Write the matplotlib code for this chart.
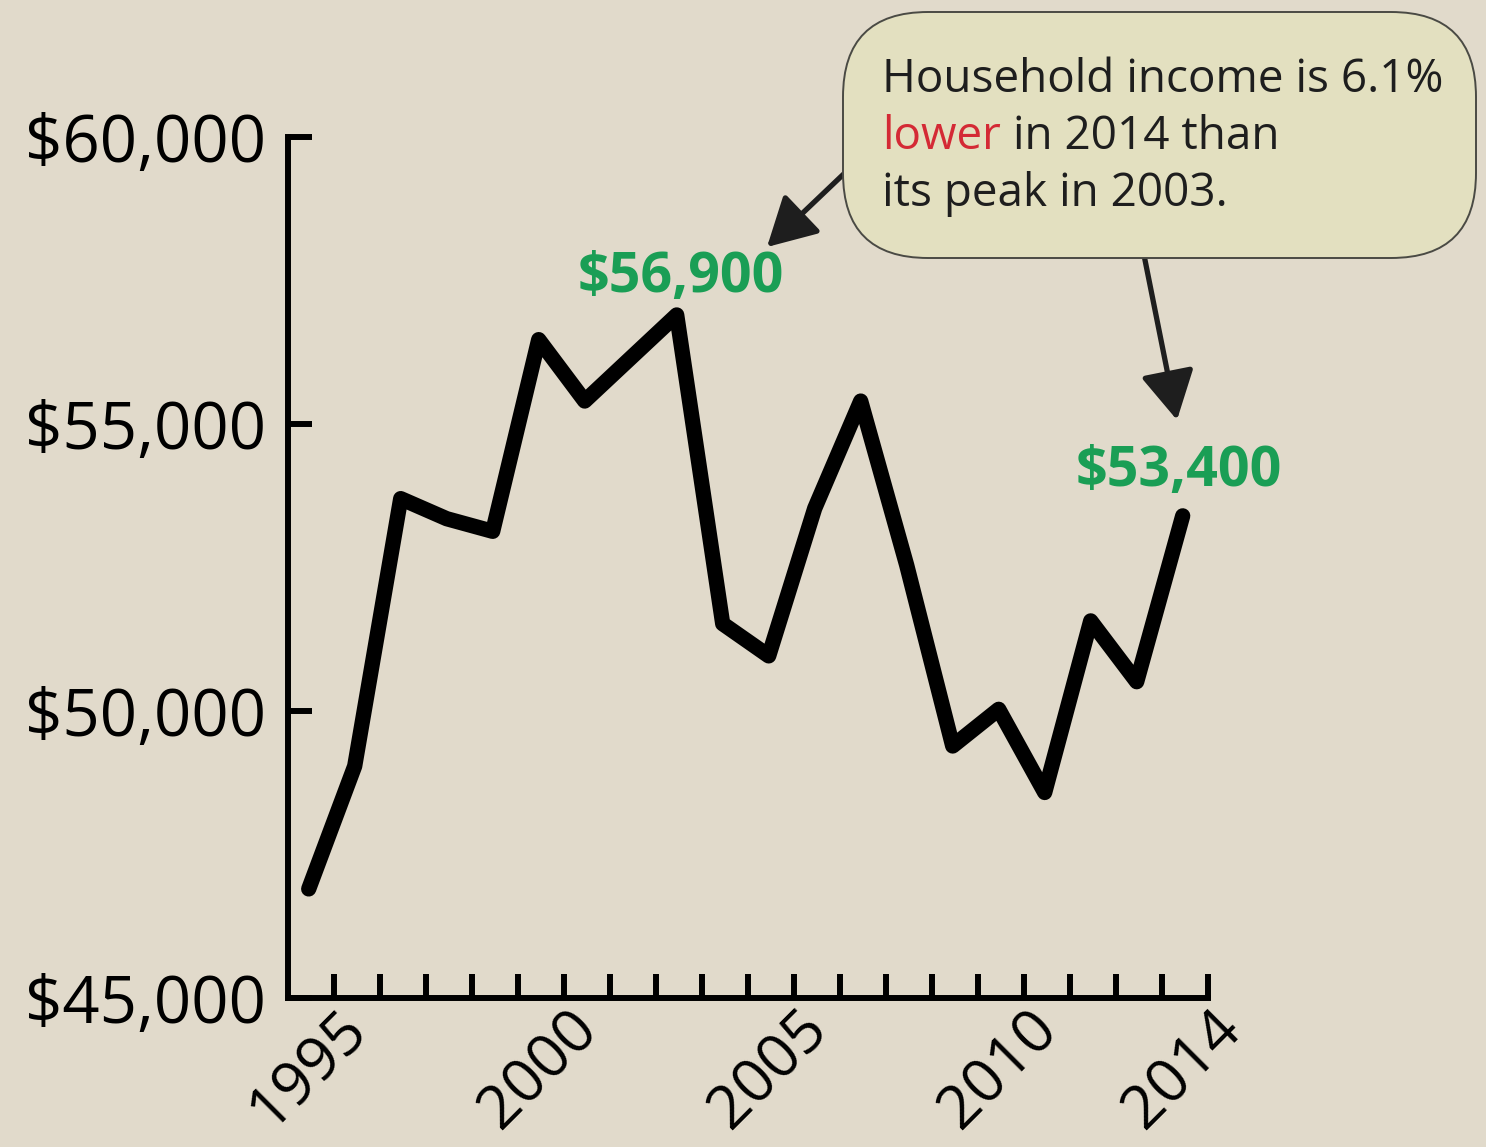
import numpy as np
import matplotlib
matplotlib.use("Agg")
import matplotlib.pyplot as plt
from matplotlib.patches import FancyBboxPatch
from matplotlib.transforms import IdentityTransform
from matplotlib.text import Annotation

plt.rcParams['font.family'] = ['Open Sans', 'DejaVu Sans']

# median household income, 1995-2014
years = np.arange(1995, 2015)
income = [46900, 49040, 53700, 53350, 53130, 56470, 55400, 56150, 56900, 51520,
          50960, 53530, 55400, 52540, 49390, 50030, 48580, 51570, 50510, 53400]
label_years = [1995, 2000, 2005, 2010, 2014]
y_ticks = [45000, 50000, 55000, 60000]
peak_year, peak_val = 2003, 56900
last_year, last_val = 2014, 53400

BG = '#e1dacb'
GREEN = '#1a9e55'
RED = '#d42a35'
DARK = '#1e1e1e'
W, H = 1486, 1147

fig = plt.figure(figsize=(W / 100, H / 100), dpi=100, facecolor=BG)
ax = fig.add_axes([288 / W, 1 - 998 / H, 920 / W, 861 / H])
ax.set_facecolor(BG)

ax.plot(years, income, color='black', lw=11, solid_joinstyle='round',
        solid_capstyle='round', clip_on=False, zorder=3)

ax.set_xlim(1994.55, 2014.55)
ax.set_ylim(45000, 60000)
for s in ['top', 'right']:
    ax.spines[s].set_visible(False)
for s in ['left', 'bottom']:
    ax.spines[s].set_linewidth(4.3)
    ax.spines[s].set_color('black')
    ax.spines[s].set_capstyle('projecting')

ax.set_yticks(y_ticks, [f"${v:,.0f}" for v in y_ticks])
ax.tick_params(axis='y', direction='in', length=17, width=4.3, pad=16,
               labelsize=47, colors='black')
for lbl in ax.get_yticklabels():
    lbl.set_va('center_baseline')

# tick marks sit half a year to the right of the points
ax.set_xticks(years + 0.55)
ax.tick_params(axis='x', which='major', direction='in', length=17, width=4.3,
               labelbottom=False)
ax.set_xticks(label_years, minor=True)
ax.set_xticklabels([str(y) for y in label_years], minor=True, rotation=45,
                   ha='center', va='top')
ax.tick_params(axis='x', which='minor', length=0, pad=1, labelsize=44)

# value labels
ax.annotate(f"${peak_val:,}", xy=(peak_year, peak_val), xytext=(3, 27),
            textcoords='offset points', ha='center', va='center',
            fontsize=40, fontweight='bold', color=GREEN)
ax.annotate(f"${last_val:,}", xy=(last_year, last_val), xytext=(-3, 32),
            textcoords='offset points', ha='center', va='center',
            fontsize=40, fontweight='bold', color=GREEN)

# callout arrows
arrow = dict(arrowstyle='-|>,head_length=1.0,head_width=0.55', lw=3.8,
             color=DARK, shrinkA=0, shrinkB=0, mutation_scale=30)
ax.annotate('', xy=(767, H - 247), xycoords='figure pixels',
            xytext=(850, H - 168), textcoords='figure pixels', arrowprops=arrow)
ax.annotate('', xy=(1177, H - 420), xycoords='figure pixels',
            xytext=(1143, H - 250), textcoords='figure pixels', arrowprops=arrow)

# callout box
box = FancyBboxPatch((843, H - 258), 633, 246,
                     boxstyle='round,pad=0,rounding_size=85',
                     transform=IdentityTransform(), facecolor='#e3e0c0',
                     edgecolor='#4a4a44', lw=1.4, zorder=5)
fig.patches.append(box)

fs = 33
fig.text(882 / W, 1 - 92 / H, "Household income is 6.1%", fontsize=fs,
         color=DARK, va='baseline', zorder=6)
t_low = fig.text(882 / W, 1 - 149 / H, "lower", fontsize=fs, color=RED,
                 va='baseline', zorder=6)
fig.add_artist(Annotation(" in 2014 than", xy=(1, 0), xycoords=t_low,
                          va='bottom', fontsize=fs, color=DARK, zorder=6))
fig.text(882 / W, 1 - 206 / H, "its peak in 2003.", fontsize=fs,
         color=DARK, va='baseline', zorder=6)

fig.savefig("out.png", dpi=100, facecolor=BG)
plt.close(fig)
